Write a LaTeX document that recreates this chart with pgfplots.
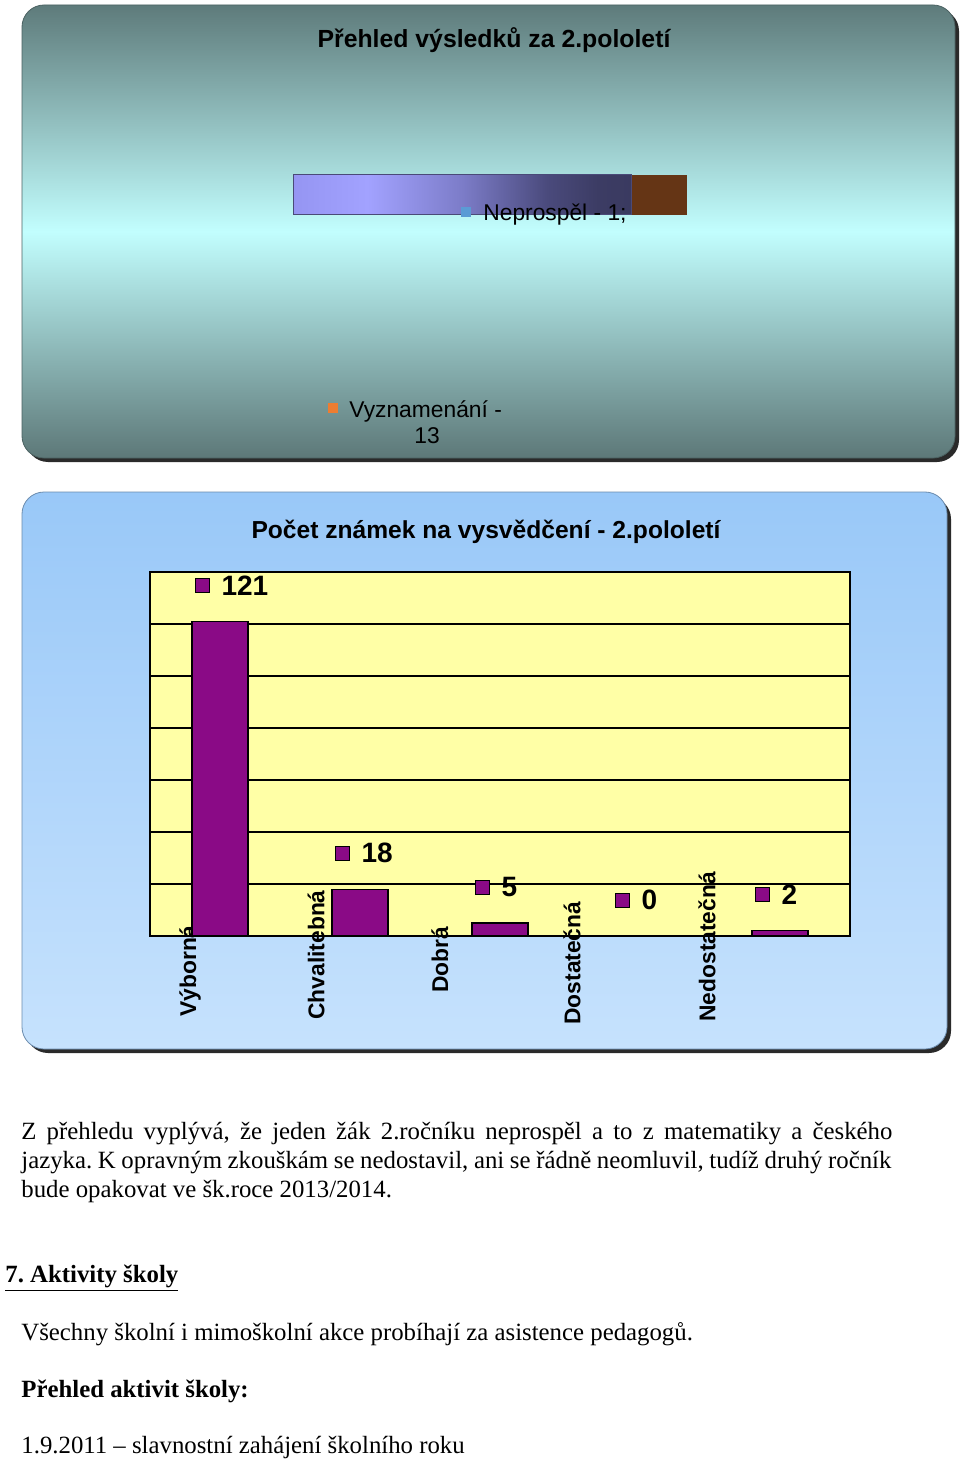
\documentclass[border=0pt]{standalone}
\usepackage{pgfplots}
\pgfplotsset{compat=1.18}
\usepackage{fontspec}
\setmainfont{Liberation Serif}
\newfontfamily\arial{Liberation Sans}
\frenchspacing
\definecolor{shadowgray}{HTML}{2A2A2A}
\definecolor{tealtop}{HTML}{5E7B7B}
\definecolor{tealmid}{HTML}{C2FEFE}
\definecolor{tealbot}{HTML}{5D7878}
\definecolor{bluetop}{HTML}{99C8F8}
\definecolor{bluebot}{HTML}{C6E2FD}
\definecolor{plotyellow}{HTML}{FFFFA6}
\definecolor{barpurple}{HTML}{8A0A86}
\definecolor{legblue}{HTML}{5B9BD5}
\definecolor{legorange}{HTML}{ED7D31}
\definecolor{brownseg}{HTML}{653515}
\definecolor{barline}{HTML}{4A4A78}
\definecolor{sh0}{HTML}{9595F2}
\definecolor{sh1}{HTML}{A2A2FF}
\definecolor{sh2}{HTML}{7C7CC8}
\definecolor{sh3}{HTML}{4A4A7C}
\definecolor{sh4}{HTML}{3C3C64}
\definecolor{sh5}{HTML}{3A3A60}
\pgfdeclarehorizontalshading{barshade}{100bp}{color(0bp)=(sh0); color(25bp)=(sh0); color(36bp)=(sh1); color(50bp)=(sh2); color(62.5bp)=(sh3); color(70bp)=(sh4); color(75bp)=(sh5); color(100bp)=(sh5)}
\begin{document}
\begin{tikzpicture}[x=0.5pt,y=-0.5pt]
\fill[white] (0,0) rectangle (960,1460);
% ---------- top panel ----------
\fill[shadowgray, rounded corners=11pt] (26,9) rectangle (959,462);
\shade[top color=tealtop, bottom color=tealbot, middle color=tealmid, rounded corners=11pt] (22,5) rectangle (955,458);
\draw[tealtop!80!black, line width=0.4pt, rounded corners=11pt] (22,5) rectangle (955,458);
\node[anchor=base, inner sep=0pt, font=\arial\bfseries\fontsize{12.4}{14}\selectfont] at (494,48) {Přehled výsledků za 2.pololetí};
\begin{axis}[at={(146.5pt,-107.5pt)}, anchor=south west, scale only axis,
  width=197pt, height=20pt, xmin=0, xmax=100, ymin=-0.5, ymax=0.5,
  hide axis, xbar stacked, bar width=20pt]
\addplot[draw=barline, line width=0.5pt, shade, shading=barshade] coordinates {(86,0)};
\addplot[draw=none, fill=brownseg] coordinates {(14,0)};
\end{axis}
\node[anchor=base west, inner sep=0pt, font=\arial\fontsize{11.4}{13}\selectfont] at (461,221) {\textcolor{legblue}{\rule[2pt]{5pt}{5pt}}\hspace{6pt}Neprospěl - 1;};
\node[anchor=base west, inner sep=0pt, font=\arial\fontsize{11.4}{13}\selectfont] at (328,417) {\textcolor{legorange}{\rule[2pt]{5pt}{5pt}}\hspace{5.5pt}Vyznamenání -};
\node[anchor=base, inner sep=0pt, font=\arial\fontsize{11.4}{13}\selectfont] at (427,443) {13};
% ---------- bottom panel ----------
\fill[shadowgray, rounded corners=11pt] (26,497) rectangle (951,1053);
\shade[top color=bluetop, bottom color=bluebot, rounded corners=11pt] (22,492) rectangle (947,1049);
\draw[bluetop!70!black, line width=0.4pt, rounded corners=11pt] (22,492) rectangle (947,1049);
\node[anchor=base, inner sep=0pt, font=\arial\bfseries\fontsize{12.3}{14}\selectfont] at (486,538) {Počet známek na vysvědčení - 2.pololetí};
\begin{axis}[at={(75pt,-468pt)}, anchor=south west, scale only axis,
  width=350pt, height=182pt, xmin=-0.5, xmax=4.5, ymin=0, ymax=140,
  ytick={0,20,...,140}, yticklabels={}, ymajorgrids,
  grid style={black, line width=1pt},
  major tick length=0pt,
  axis line style={black, line width=0.8pt},
  axis background/.style={fill=plotyellow},
  clip=false,
  xtick={-0.214,0.686,1.571,2.514,3.479},
  xticklabels={Výborná,\hspace*{-1.5pt}Chvalitebná,\hspace*{12pt}Dobrá,\hspace*{-4pt}Dostatečná,\hspace*{-2.5pt}Nedostatečná},
  xticklabel style={rotate=90, anchor=west, inner sep=0pt, font=\arial\bfseries\fontsize{11.4}{13}\selectfont},
  xticklabel shift=40.5pt,
  /pgf/number format/assume math mode=true]
\addplot[ybar, bar width=28pt, bar shift=0pt, draw=black, line width=0.6pt, fill=barpurple] coordinates {(0,121) (1,18) (2,5) (3,0) (4,2)};
\addplot[only marks, mark=square*, mark size=3.5pt,
  mark options={fill=barpurple, draw=black, line width=0.5pt, xshift=-9pt, yshift=18pt},
  nodes near coords,
  nodes near coords align={anchor=west},
  every node near coord/.style={anchor=west, inner sep=0pt, xshift=9.5pt, yshift=0pt, font=\arial\bfseries\fontsize{14}{16}\selectfont, text=black}]
  coordinates {(0,121) (1,18) (2,5) (3,0) (4,2)};
\end{axis}
% ---------- body text ----------
\node[anchor=base west, inner sep=0pt, font=\fontsize{12.4}{14}\selectfont] at (21,1139) {\makebox[435.5pt][s]{Z přehledu vyplývá, že jeden žák 2.ročníku neprospěl a to z matematiky a českého}};
\node[anchor=base west, inner sep=0pt, font=\fontsize{12.4}{14}\selectfont] at (21,1168) {\makebox[435pt][s]{jazyka. K opravným zkouškám se nedostavil, ani se řádně neomluvil, tudíž druhý ročník}};
\node[anchor=base west, inner sep=0pt, font=\fontsize{12.4}{14}\selectfont] at (21,1197) {bude opakovat ve šk.roce 2013/2014.};
\node[anchor=base west, inner sep=0pt, font=\bfseries\fontsize{12.4}{14}\selectfont] at (5,1282) {\underline{7. Aktivity školy}};
\node[anchor=base west, inner sep=0pt, font=\fontsize{12.4}{14}\selectfont] at (21,1340) {Všechny školní i mimoškolní akce probíhají za asistence pedagogů.};
\node[anchor=base west, inner sep=0pt, font=\bfseries\fontsize{12.4}{14}\selectfont] at (21,1397) {Přehled aktivit školy:};
\node[anchor=base west, inner sep=0pt, font=\fontsize{12.4}{14}\selectfont] at (21,1453) {1.9.2011 – slavnostní zahájení školního roku};
\end{tikzpicture}
\end{document}
